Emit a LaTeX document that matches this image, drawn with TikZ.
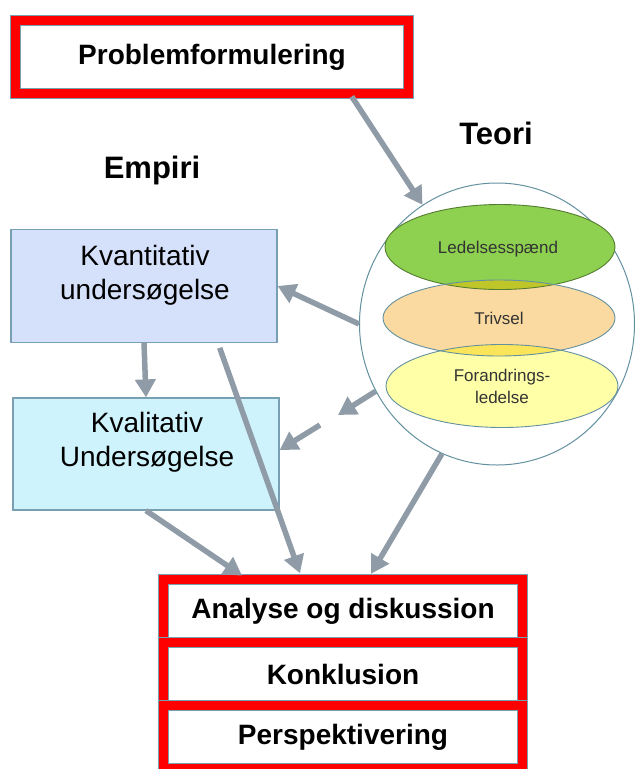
\documentclass[tikz,border=0pt]{standalone}
\usepackage{fontspec}
\setmainfont{Liberation Sans}
\usetikzlibrary{arrows.meta,shapes.geometric}

\definecolor{boxline}{RGB}{120,160,178}
\definecolor{arrowgray}{RGB}{143,156,167}
\definecolor{kvantfill}{RGB}{213,224,250}
\definecolor{kvalfill}{RGB}{207,243,252}
\definecolor{ledgreen}{RGB}{142,208,80}
\definecolor{trivorange}{RGB}{250,218,160}
\definecolor{foryellow}{RGB}{255,255,168}
\definecolor{lensline}{RGB}{100,145,160}
\definecolor{greenover}{RGB}{190,198,42}
\definecolor{yellowover}{RGB}{250,228,90}

\newcommand\headfont{\fontsize{28}{34}\selectfont\bfseries}
\newcommand\titlefont{\fontsize{31}{37}\selectfont\bfseries}
\newcommand\boxfont{\fontsize{28}{34}\selectfont}
\newcommand\lensfont{\fontsize{17}{22}\selectfont}

\begin{document}
\begin{tikzpicture}[x=1pt,y=-1pt,
    redbox/.style={draw=boxline,double=red,double distance=9pt,line width=1pt,inner sep=0pt,font=\headfont},
    stackbox/.style={redbox,minimum width=359pt,minimum height=63pt},
    methodbox/.style={draw=boxline,line width=1.2pt,minimum width=266pt,minimum height=112pt},
    lens/.style={ellipse,inner sep=0pt,font=\lensfont,text=black!80,align=center},
    lensline/.style={draw=lensline,line width=0.9pt},
    flow/.style={draw=arrowgray,line width=5.5pt,-{Triangle[length=18pt,width=20pt]}}]
    \useasboundingbox (0,0) rectangle (635,769);
    %% Problem
    \node[redbox,minimum width=393pt,minimum height=73pt] (problem) at (212,57) {Problemformulering};
    %% Headings
    \node[font=\titlefont] (teori) at (496,133) {Teori};
    \node[font=\titlefont] (empiri) at (152,170) {Empiri};
    %% Theory circle
    \node[draw=lensline,fill=white,ellipse,inner sep=0pt,line width=1pt,minimum width=275pt,minimum height=282pt] (teoricirc) at (497,324) {};
    \node[lens,fill=ledgreen,minimum width=230pt,minimum height=85pt] (ledelse) at (500,247) {};
    \node[lens,fill=trivorange,minimum width=232pt,minimum height=76pt] (trivsel) at (499,318) {};
    \node[lens,fill=foryellow,minimum width=232pt,minimum height=83pt] (forandring) at (502,386) {};
    \begin{scope}
        \clip (ledelse.center) ellipse [x radius=115,y radius=42.5];
        \fill[greenover] (trivsel.center) ellipse [x radius=116,y radius=38];
    \end{scope}
    \begin{scope}
        \clip (trivsel.center) ellipse [x radius=116,y radius=38];
        \fill[yellowover] (forandring.center) ellipse [x radius=116,y radius=41.5];
    \end{scope}
    \draw[lensline,draw=ledgreen!60!black] (ledelse.center) ellipse [x radius=115,y radius=42.5];
    \draw[lensline] (trivsel.center) ellipse [x radius=116,y radius=38];
    \draw[lensline] (forandring.center) ellipse [x radius=116,y radius=41.5];
    \node[lens] (ledelsetxt) at (498,249) {Ledelsesspænd};
    \node[lens] (trivseltxt) at (499,318) {Trivsel};
    \node[lens] (forandringtxt) at (502,386) {Forandrings-\\ledelse};
    %% Empiri boxes
    \node[methodbox,fill=kvantfill,minimum height=113pt] (kvant) at (144,286) {};
    \node[font=\boxfont,align=center] (kvanttxt) at (145,275) {Kvantitativ\\undersøgelse};
    \node[methodbox,fill=kvalfill] (kval) at (146,454) {};
    \node[font=\boxfont,align=center] (kvaltxt) at (147,442) {Kvalitativ\\Undersøgelse};
    %% Bottom stack
    \node[stackbox] (analyse) at (343,611) {Analyse og diskussion};
    \node[stackbox] (konklusion) at (343,674) {Konklusion};
    \node[stackbox] (perspektiv) at (343,737) {Perspektivering};
    %% Arrows
    \coordinate (gapA) at (338,415);
    \coordinate (gapB) at (320,425);
    \draw[flow,shorten <=3pt] (problem.-15) -- (teoricirc.122);
    \draw[flow] (teoricirc.west) -- (kvant.east);
    \draw[flow] (kvant.south) -- (kval.north);
    \draw[flow] (teoricirc.209) -- (gapA);
    \draw[flow] (gapB) -- ([yshift=4pt]kval.east);
    \draw[flow,shorten <=5pt,shorten >=6pt] ([xshift=74pt]kvant.south) -- ([xshift=-41pt]analyse.north);
    \draw[flow,shorten >=6pt] (kval.south) -- ([xshift=-96pt]analyse.north);
    \draw[flow,shorten >=6pt] (teoricirc.247) -- ([xshift=25pt]analyse.north);
\end{tikzpicture}
\end{document}
